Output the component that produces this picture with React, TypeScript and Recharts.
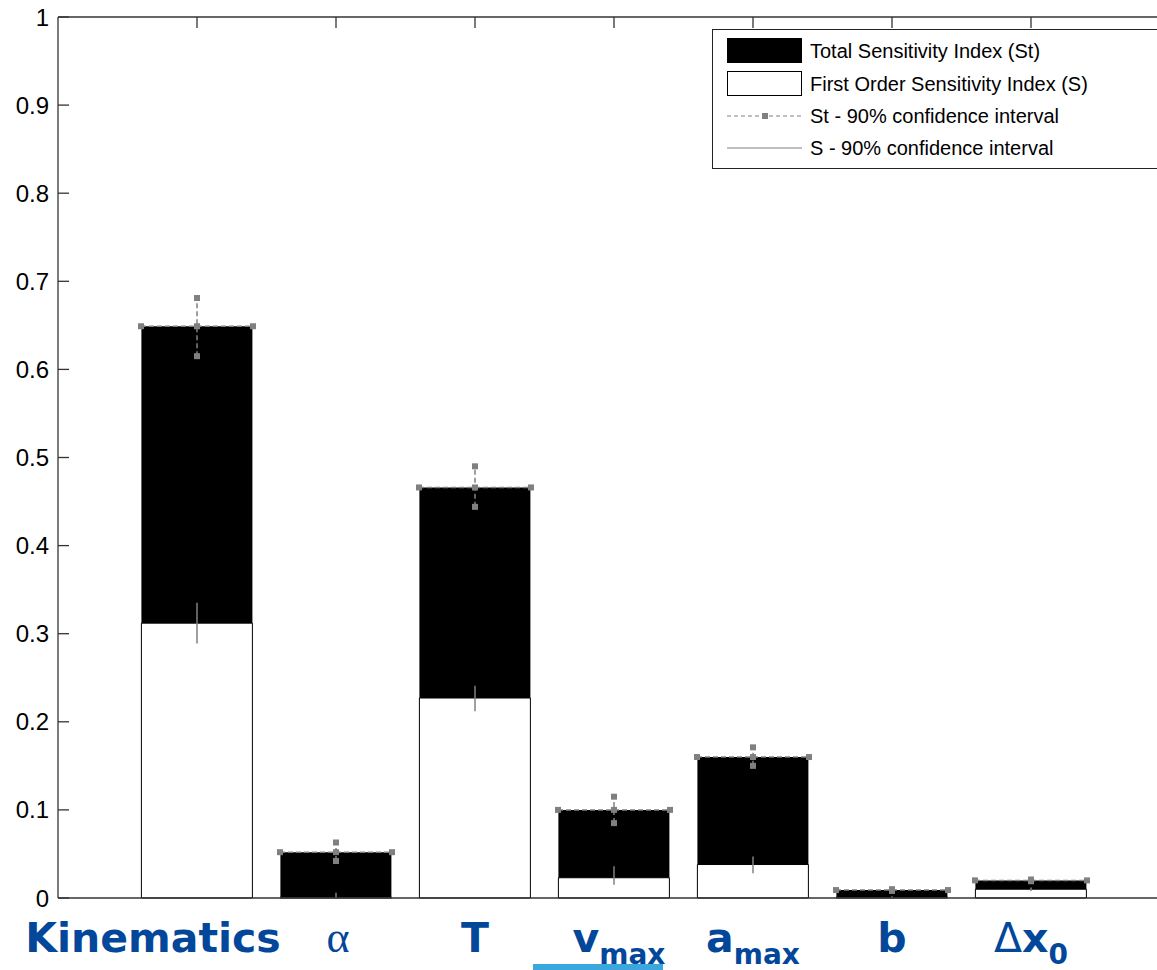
import {
  Bar,
  ComposedChart,
  ErrorBar,
  Legend,
  Scatter,
  XAxis,
  YAxis,
} from "recharts";

const categories = ["Kinematics", "α", "T", "vmax", "amax", "b", "Δx0"];
const totalIndex = [0.649, 0.052, 0.466, 0.1, 0.16, 0.009, 0.02];
const totalLow = [0.615, 0.042, 0.444, 0.085, 0.15, 0.008, 0.019];
const totalHigh = [0.681, 0.063, 0.49, 0.115, 0.171, 0.01, 0.021];
const firstOrder = [0.312, 0.001, 0.227, 0.023, 0.038, 0.001, 0.01];
const firstLow = [0.289, 0.0, 0.212, 0.015, 0.028, 0.0, 0.008];
const firstHigh = [0.335, 0.006, 0.241, 0.036, 0.047, 0.002, 0.012];
const yTicks = [0, 0.1, 0.2, 0.3, 0.4, 0.5, 0.6, 0.7, 0.8, 0.9, 1];

const data = categories.map((name, i) => ({
  name,
  s: firstOrder[i],
  rest: totalIndex[i] - firstOrder[i],
  st: totalIndex[i],
  stLo: totalLow[i],
  stHi: totalHigh[i],
  stErr: [totalIndex[i] - totalLow[i], totalHigh[i] - totalIndex[i]],
  sErr: [firstOrder[i] - firstLow[i], firstHigh[i] - firstOrder[i]],
}));

const GRAY = "#808080";
const BLUE = "#03479a";
const AXIS = "#333";
const HALF_BAR = 56;

const labelShift: Record<string, number> = {
  Kinematics: -44,
  "α": 2,
  vmax: 5,
};

function Square({ cx, cy }: any) {
  if (cx == null || cy == null) return null;
  return <rect x={cx - 3} y={cy - 3} width={6} height={6} fill={GRAY} />;
}

function TopMarker({ cx, cy }: any) {
  if (cx == null || cy == null) return null;
  return (
    <g>
      <line
        x1={cx - HALF_BAR}
        x2={cx + HALF_BAR}
        y1={cy}
        y2={cy}
        stroke={GRAY}
        strokeWidth={1.5}
        strokeDasharray="5 3"
      />
      {[-HALF_BAR, 0, HALF_BAR].map((d) => (
        <rect key={d} x={cx + d - 3} y={cy - 3} width={6} height={6} fill={GRAY} />
      ))}
    </g>
  );
}

function Nothing() {
  return null;
}

function EmptyTick() {
  return <g />;
}

function CategoryTick({ x, y, payload }: any) {
  const name: string = payload.value;
  const tx = x + (labelShift[name] || 0);
  const ty = y + 46;
  const common = {
    x: tx,
    y: ty,
    textAnchor: "middle" as const,
    fill: BLUE,
    fontFamily: "DejaVu Sans",
    fontWeight: 700,
    fontSize: 41,
  };
  if (name === "α") {
    return (
      <text {...common} fontFamily="Liberation Serif" fontWeight={400} fontSize={44}>
        α
      </text>
    );
  }
  if (name === "vmax" || name === "amax") {
    return (
      <text {...common}>
        {name[0]}
        <tspan fontSize={28} dy={12}>
          max
        </tspan>
      </text>
    );
  }
  if (name === "Δx0") {
    return (
      <text {...common}>
        <tspan fontWeight={400}>Δ</tspan>x
        <tspan fontSize={28} dy={12}>
          0
        </tspan>
      </text>
    );
  }
  return <text {...common}>{name}</text>;
}

function LegendBox() {
  const font = { fontFamily: "Liberation Sans", fontSize: 20, fill: "#000" };
  return (
    <svg width={446} height={140} style={{ display: "block" }}>
      <rect x={0.5} y={0.5} width={445} height={139} fill="#fff" stroke="#222" strokeWidth={1} />
      <rect x={15} y={9} width={75} height={25} fill="#000" />
      <text x={98} y={29} {...font}>
        Total Sensitivity Index (St)
      </text>
      <rect x={15.5} y={42.5} width={74} height={24} fill="#fff" stroke="#000" />
      <text x={98} y={62} {...font}>
        First Order Sensitivity Index (S)
      </text>
      <line x1={15} x2={90} y1={87} y2={87} stroke={GRAY} strokeWidth={1.2} strokeDasharray="4 3" />
      <rect x={50} y={84} width={6} height={6} fill={GRAY} />
      <text x={98} y={94} {...font}>
        St - 90% confidence interval
      </text>
      <line x1={15} x2={90} y1={119} y2={119} stroke={GRAY} strokeWidth={1.2} />
      <text x={98} y={126} {...font}>
        S - 90% confidence interval
      </text>
    </svg>
  );
}

export default function App() {
  return (
    <div
      style={{
        position: "fixed",
        left: 0,
        top: 0,
        width: 1157,
        height: 970,
        overflow: "hidden",
        background: "#fff",
      }}
    >
      <ComposedChart
        width={1180}
        height={970}
        data={data}
        margin={{ top: 16, right: 10, bottom: 0, left: 0 }}
        barCategoryGap="10%"
      >
        <XAxis
          dataKey="name"
          height={72}
          padding={{ left: 69.5, right: 69.5 }}
          tickLine={false}
          axisLine={{ stroke: AXIS, strokeWidth: 1.3 }}
          tick={CategoryTick}
          interval={0}
        />
        <XAxis
          xAxisId="top"
          orientation="top"
          dataKey="name"
          height={1}
          padding={{ left: 69.5, right: 69.5 }}
          tickSize={-11}
          tickMargin={0}
          tickLine={{ stroke: AXIS, strokeWidth: 1.3 }}
          axisLine={{ stroke: AXIS, strokeWidth: 1.3 }}
          tick={EmptyTick}
          interval={0}
        />
        <YAxis
          width={58}
          domain={[0, 1]}
          ticks={yTicks}
          interval={0}
          tickSize={-11}
          tickMargin={20}
          tickLine={{ stroke: AXIS, strokeWidth: 1.3 }}
          axisLine={{ stroke: AXIS, strokeWidth: 1.3 }}
          tick={{ fill: "#000", fontSize: 24, fontFamily: "Liberation Sans" }}
        />
        <Legend
          layout="horizontal"
          verticalAlign="middle"
          align="center"
          content={LegendBox}
          wrapperStyle={{ left: 712, top: 29, width: 446, height: 140 }}
        />
        <Bar dataKey="s" stackId="a" fill="#fff" stroke="#000" strokeWidth={1} isAnimationActive={false} />
        <Bar dataKey="rest" stackId="a" fill="#000" isAnimationActive={false} />
        <Scatter dataKey="st" shape={TopMarker} isAnimationActive={false}>
          <ErrorBar
            dataKey="stErr"
            direction="y"
            width={0}
            stroke={GRAY}
            strokeWidth={1.5}
            strokeDasharray="5 3"
          />
        </Scatter>
        <Scatter dataKey="stHi" shape={Square} isAnimationActive={false} />
        <Scatter dataKey="stLo" shape={Square} isAnimationActive={false} />
        <Scatter dataKey="s" xAxisId="top" shape={Nothing} isAnimationActive={false}>
          <ErrorBar dataKey="sErr" direction="y" width={0} stroke={GRAY} strokeWidth={1.5} />
        </Scatter>
      </ComposedChart>
      <div
        style={{
          position: "absolute",
          left: 533,
          top: 964,
          width: 130,
          height: 6,
          background: "#3aa8dc",
        }}
      />
    </div>
  );
}
